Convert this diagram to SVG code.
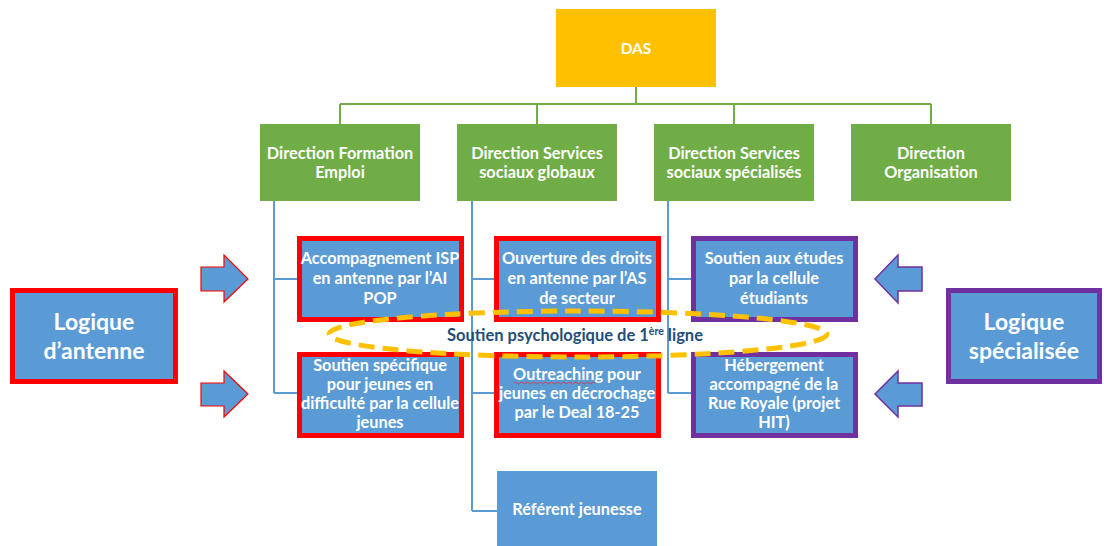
<svg xmlns="http://www.w3.org/2000/svg" width="1104" height="546" viewBox="0 0 1104 546">
<style>
.t{font-family:Lato,"Open Sans","Liberation Sans",sans-serif;font-weight:bold;fill:#fff;text-anchor:middle}
.s{font-size:16.3px}
.big{font-size:23px}
.green{fill:#70AD47}
.blue{fill:#5B9BD5}
.red{stroke:#FF0000;stroke-width:5}
.pur{stroke:#7030A0;stroke-width:5}
.gl{stroke:#70AD47;stroke-width:2;fill:none}
.bl{stroke:#5B9BD5;stroke-width:2;fill:none}
</style>
<rect width="1104" height="546" fill="#fff"/>
<g id="connectors">
<path class="gl" d="M636 87V104M340 104H931M340 104V124M537 104V124M734 104V124M931 104V124"/>
<path class="bl" d="M274 201V393M274 279H299M274 393H299"/>
<path class="bl" d="M472 201V511M472 279H496M472 393H496M472 511H497"/>
<path class="bl" d="M668 201V393M668 279H693M668 393H693"/>
</g>
<g id="das"><rect x="556" y="9" width="160" height="78" fill="#FFC000"/><text class="t" x="636" y="54" font-size="15.5">DAS</text></g>
<g id="dir1"><rect class="green" x="260" y="124" width="160" height="77"/><text class="t s" x="340" y="159">Direction Formation</text><text class="t s" x="340" y="178">Emploi</text></g>
<g id="dir2"><rect class="green" x="457" y="124" width="160" height="77"/><text class="t s" x="537" y="159">Direction Services</text><text class="t s" x="537" y="178">sociaux globaux</text></g>
<g id="dir3"><rect class="green" x="654" y="124" width="160" height="77"/><text class="t s" x="734" y="159">Direction Services</text><text class="t s" x="734" y="178">sociaux spécialisés</text></g>
<g id="dir4"><rect class="green" x="851" y="124" width="160" height="77"/><text class="t s" x="931" y="159">Direction</text><text class="t s" x="931" y="178">Organisation</text></g>
<g id="isp"><rect class="blue red" x="299.5" y="238.5" width="162" height="81"/><text class="t s" x="380" y="264">Accompagnement ISP</text><text class="t s" x="380" y="284">en antenne par l’AI</text><text class="t s" x="380" y="304">POP</text></g>
<g id="droits"><rect class="blue red" x="496.5" y="238.5" width="162" height="81"/><text class="t s" x="577" y="264">Ouverture des droits</text><text class="t s" x="577" y="284">en antenne par l’AS</text><text class="t s" x="577" y="304">de secteur</text></g>
<g id="etudes"><rect class="blue pur" x="693.5" y="238.5" width="162" height="81"/><text class="t s" x="774" y="264">Soutien aux études</text><text class="t s" x="774" y="284">par la cellule</text><text class="t s" x="774" y="304">étudiants</text></g>
<g id="jeunes"><rect class="blue red" x="299.5" y="354.5" width="162" height="81"/><text class="t s" x="380" y="371">Soutien spécifique</text><text class="t s" x="380" y="390">pour jeunes en</text><text class="t s" x="380" y="409">difficulté par la cellule</text><text class="t s" x="380" y="428">jeunes</text></g>
<g id="outreach"><rect class="blue red" x="496.5" y="354.5" width="162" height="81"/><text class="t s" x="577" y="380">Outreaching pour</text><text class="t s" x="577" y="399">jeunes en décrochage</text><text class="t s" x="577" y="418">par le Deal 18-25</text><path d="M514 383q1.5-2 3 0t3 0t3 0t3 0t3 0t3 0t3 0t3 0t3 0t3 0t3 0t3 0t3 0t3 0t3 0t3 0t3 0t3 0t3 0t3 0t3 0t3 0t3 0t3 0t3 0t3 0t3 0" fill="none" stroke="#E03030" stroke-width="0.8"/></g>
<g id="heberg"><rect class="blue pur" x="693.5" y="354.5" width="162" height="81"/><text class="t s" x="774" y="371">Hébergement</text><text class="t s" x="774" y="390">accompagné de la</text><text class="t s" x="774" y="409">Rue Royale (projet</text><text class="t s" x="774" y="428">HIT)</text></g>
<g id="referent"><rect class="blue" x="497" y="471" width="160" height="75"/><text class="t s" x="577" y="515">Référent jeunesse</text></g>
<g id="soutien-psy"><ellipse cx="578" cy="334" rx="249" ry="23" fill="none" stroke="#FFC000" stroke-width="5" stroke-dasharray="16 8"/><text x="575" y="341" font-family="Lato,'Open Sans','Liberation Sans',sans-serif" font-weight="bold" font-size="16.5" fill="#1F4E79" text-anchor="middle">Soutien psychologique de 1<tspan font-size="10.5" dy="-6">ère</tspan><tspan dy="6"> ligne</tspan></text></g>
<g id="logique-antenne"><rect class="blue red" x="12.5" y="290.5" width="163" height="91"/><text class="t big" x="94" y="330">Logique</text><text class="t big" x="94" y="359">d’antenne</text></g>
<g id="logique-spec"><rect class="blue pur" x="948.5" y="290.5" width="151" height="91"/><text class="t big" x="1024" y="330">Logique</text><text class="t big" x="1024" y="359">spécialisée</text></g>
<g id="arrows">
<path class="blue" d="M201 267H224V255L248 279L224 302V291H201Z" stroke="#FF0000" stroke-width="1.2"/>
<path class="blue" d="M201 383H224V371L248 394L224 417V406H201Z" stroke="#FF0000" stroke-width="1.2"/>
<path class="blue" d="M922 267H898V255L875 279L898 303V291H922Z" stroke="#7030A0" stroke-width="1.5"/>
<path class="blue" d="M922 383H898V371L875 394L898 417V406H922Z" stroke="#7030A0" stroke-width="1.5"/>
</g>
</svg>
